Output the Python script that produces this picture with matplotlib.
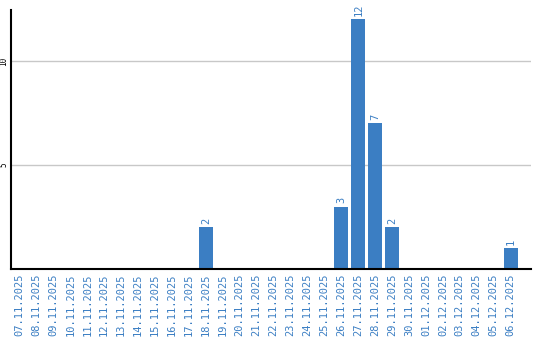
import matplotlib.pyplot as plt

DATES = [
    "07.11.2025", "08.11.2025", "09.11.2025", "10.11.2025", "11.11.2025",
    "12.11.2025", "13.11.2025", "14.11.2025", "15.11.2025", "16.11.2025",
    "17.11.2025", "18.11.2025", "19.11.2025", "20.11.2025", "21.11.2025",
    "22.11.2025", "23.11.2025", "24.11.2025", "25.11.2025", "26.11.2025",
    "27.11.2025", "28.11.2025", "29.11.2025", "30.11.2025", "01.12.2025",
    "02.12.2025", "03.12.2025", "04.12.2025", "05.12.2025", "06.12.2025",
]
COUNTS = [0, 0, 0, 0, 0, 0, 0, 0, 0, 0, 0, 2, 0, 0, 0, 0, 0, 0, 0, 3,
          12, 7, 2, 0, 0, 0, 0, 0, 0, 1]
Y_TICKS = [5, 10]

BLUE = "#3b7ec3"

fig = plt.figure(figsize=(5.4, 3.4), dpi=100)
ax = fig.add_axes([11 / 540, 1 - 269 / 340, 520 / 540, 259 / 340])

x = list(range(len(DATES)))
ax.bar(x, COUNTS, width=0.82, color=BLUE, zorder=3)
for xi, v in zip(x, COUNTS):
    if v > 0:
        ax.text(xi, v + 0.15, str(v), rotation=90, ha="center", va="bottom",
                color=BLUE, fontsize=7.5, family="DejaVu Sans Mono")

ax.set_xlim(-0.5, 30.2)
ax.set_ylim(0, 12.45)
ax.set_yticks(Y_TICKS)
ax.set_yticklabels([str(t) for t in Y_TICKS], rotation=90, va="center",
                   fontsize=5.5, family="DejaVu Sans Mono")
ax.set_xticks(x)
ax.set_xticklabels(DATES, rotation=90, fontsize=7.5, color=BLUE,
                   family="DejaVu Sans Mono")
ax.tick_params(axis="both", length=0, pad=3)
ax.tick_params(axis="y", pad=2)
ax.grid(axis="y", color="#c8c8c8", linewidth=1, zorder=0)
for s in ("top", "right"):
    ax.spines[s].set_visible(False)
for s in ("left", "bottom"):
    ax.spines[s].set_linewidth(1.5)
    ax.spines[s].set_zorder(4)

fig.savefig("out.png", dpi=100)
